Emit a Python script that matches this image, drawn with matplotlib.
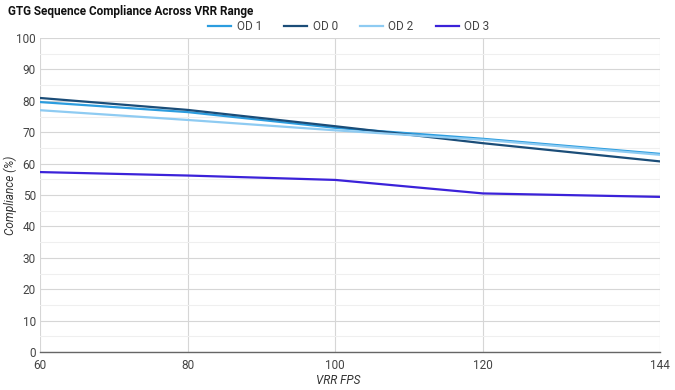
import matplotlib.pyplot as plt
from matplotlib.lines import Line2D

plt.rcParams['font.family'] = ['Roboto', 'DejaVu Sans']

# VRR refresh rates on the x axis.
fps = [60, 80, 100, 120, 144]

# Compliance per overdrive mode (%).
od1 = [79.6, 76.4, 71.4, 67.9, 63.1]
od0 = [80.9, 77.1, 71.9, 66.5, 60.7]
od2 = [77.0, 73.9, 70.6, 67.6, 62.8]
od3 = [57.3, 56.2, 54.8, 50.5, 49.4]

series = [("OD 1", od1, "#2c9ddf"), ("OD 0", od0, "#1b4d78"),
          ("OD 2", od2, "#8ecbf2"), ("OD 3", od3, "#3b22d9")]

fig = plt.figure(figsize=(6.75, 3.9), dpi=100)
ax = fig.add_axes([40 / 675, 38 / 390, 620 / 675, 314 / 390])

for name, vals, color in series:
    ax.plot(fps, vals, color=color, linewidth=1.6, label=name)

ax.set_xlim(60, 144)
ax.set_ylim(0, 100)
ax.set_xticks(fps)
ax.set_yticks(range(0, 101, 10))
ax.set_yticks(range(5, 100, 10), minor=True)

# Gridlines: major every 10, lighter minor in between.
ax.grid(True, which='major', color='#d6d6d6', linewidth=0.8)
ax.grid(True, which='minor', axis='y', color='#efefef', linewidth=0.8)
ax.set_axisbelow(True)

for side in ['top', 'right', 'left']:
    ax.spines[side].set_visible(False)
ax.spines['bottom'].set_color('#666666')
ax.spines['bottom'].set_linewidth(1.0)

ax.tick_params(axis='both', which='both', length=0, labelsize=8.5,
               labelcolor='#444444')
ax.tick_params(axis='x', pad=5)
ax.tick_params(axis='y', pad=3)

# Axis titles placed by hand so they stay inside the small canvas.
fig.text(338 / 675, 1 - 380 / 390, "VRR FPS", fontsize=8.5, style='italic',
         color='#333333', ha='center', va='center')
fig.text(10 / 675, 1 - 195 / 390, "Compliance (%)", fontsize=8.5,
         style='italic', color='#333333', ha='center', va='center',
         rotation=90)

fig.text(8 / 675, 1 - 12 / 390, "GTG Sequence Compliance Across VRR Range",
         fontsize=8.5, fontweight='bold', color='#111111', va='center')

handles = [Line2D([0], [0], color=c, linewidth=1.6) for _, _, c in series]
fig.legend(handles, [s[0] for s in series], loc='center',
           bbox_to_anchor=(349 / 675, 1 - 27 / 390), ncol=4, frameon=False,
           fontsize=8.5, handlelength=1.9, columnspacing=1.9,
           handletextpad=0.5, labelcolor='#444444')

fig.savefig("out.png", dpi=100)
